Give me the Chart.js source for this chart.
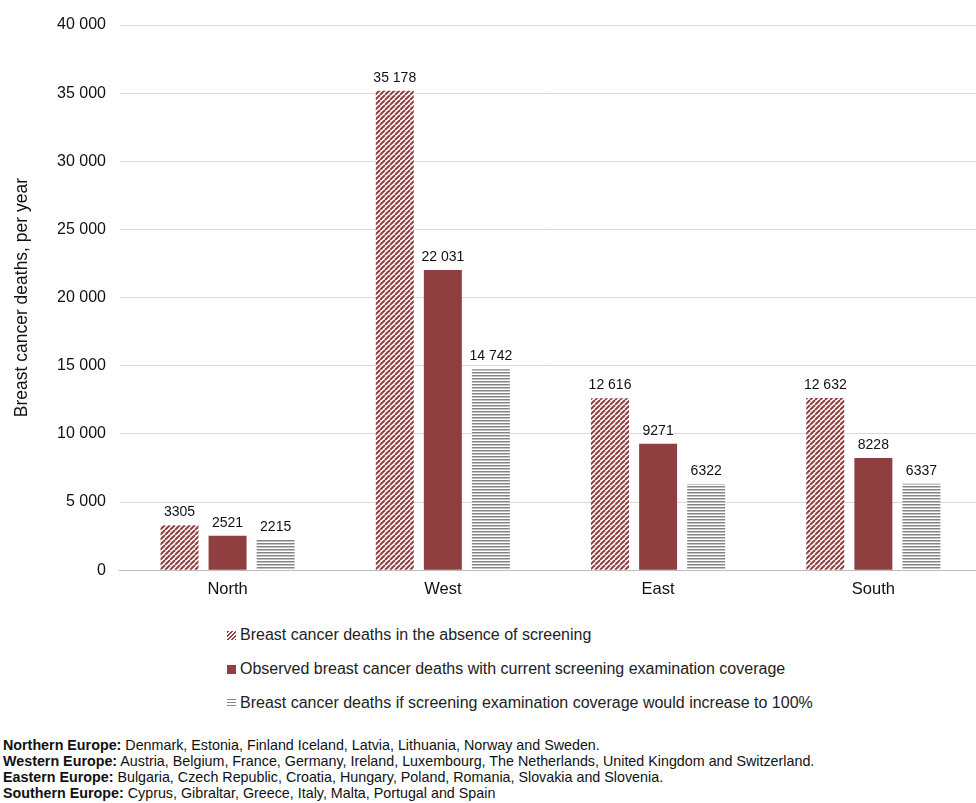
<!DOCTYPE html>
<html>
<head>
<meta charset="utf-8">
<script src="https://cdn.jsdelivr.net/npm/chart.js@4.4.0/dist/chart.umd.min.js"></script>
<style>
    body { margin: 0; background: #fff; font-family: "Liberation Sans", Arial, sans-serif; overflow: hidden; }
    #wrap { position: relative; width: 976px; height: 600px; overflow: hidden; }
    #legend { position: absolute; left: 227px; top: 618px; font-size: 16px; color: #222; }
    .item { height: 34px; line-height: 24px; display: flex; align-items: center; }
    .sw { width: 9px; height: 9px; margin-right: 4px; }
    #notes { position: absolute; left: 3px; top: 737px; font-size: 14.3px; line-height: 16px; color: #111; }
</style>
</head>
<body>
<div id="wrap"><canvas id="chart" width="981" height="600"></canvas></div>
<div id="legend"></div>
<div id="notes">
    <div><b>Northern Europe:</b> Denmark, Estonia, Finland Iceland, Latvia, Lithuania, Norway and Sweden.</div>
    <div><b>Western Europe:</b> Austria, Belgium, France, Germany, Ireland, Luxembourg, The Netherlands, United Kingdom and Switzerland.</div>
    <div><b>Eastern Europe:</b> Bulgaria, Czech Republic, Croatia, Hungary, Poland, Romania, Slovakia and Slovenia.</div>
    <div><b>Southern Europe:</b> Cyprus, Gibraltar, Greece, Italy, Malta, Portugal and Spain</div>
</div>
<script>
const regions = ["North", "West", "East", "South"];
const noScreening = [3305, 35178, 12616, 12632];
const observed = [2521, 22031, 9271, 8228];
const fullCoverage = [2215, 14742, 6322, 6337];
const seriesNames = [
    "Breast cancer deaths in the absence of screening",
    "Observed breast cancer deaths with current screening examination coverage",
    "Breast cancer deaths if screening examination coverage would increase to 100%"
];
const yTicks = [0, 5000, 10000, 15000, 20000, 25000, 30000, 35000, 40000];

const red = "#8f3f3f";
const font = "'Liberation Sans', Arial, sans-serif";

function makePattern(draw, w, h) {
    const c = document.createElement("canvas");
    c.width = w;
    c.height = h;
    const ctx = c.getContext("2d");
    ctx.fillStyle = "#fff";
    ctx.fillRect(0, 0, w, h);
    draw(ctx);
    return c;
}

// "///" stripes, 5px tile
const diagTile = makePattern((ctx) => {
    ctx.strokeStyle = red;
    ctx.lineWidth = 2;
    for (let k = -1; k <= 1; k++) {
        ctx.beginPath();
        ctx.moveTo(k * 5, 5);
        ctx.lineTo(k * 5 + 5, 0);
        ctx.stroke();
    }
}, 5, 5);

const horizTile = makePattern((ctx) => {
    ctx.fillStyle = "#858585";
    ctx.fillRect(0, 0, 4, 1.5);
}, 4, 3);

const ctxMain = document.getElementById("chart").getContext("2d");
const diagPattern = ctxMain.createPattern(diagTile, "repeat");
const horizPattern = ctxMain.createPattern(horizTile, "repeat");

const fmtSpace = (v) => v.toString().replace(/\B(?=(\d{3})+(?!\d))/g, " ");
const fmtLabel = (v) => (v >= 10000 ? fmtSpace(v) : v.toString());

const valueLabels = {
    id: "valueLabels",
    afterDatasetsDraw(chart) {
        const ctx = chart.ctx;
        ctx.save();
        ctx.font = "14px " + font;
        ctx.fillStyle = "#111";
        ctx.textAlign = "center";
        ctx.textBaseline = "bottom";
        chart.data.datasets.forEach((ds, i) => {
            chart.getDatasetMeta(i).data.forEach((bar, j) => {
                ctx.fillText(fmtLabel(ds.data[j]), bar.x, bar.y - 6);
            });
        });
        ctx.restore();
    }
};

new Chart(ctxMain, {
    type: "bar",
    data: {
        labels: regions,
        datasets: [
            { label: seriesNames[0], data: noScreening, backgroundColor: diagPattern },
            { label: seriesNames[1], data: observed, backgroundColor: red },
            { label: seriesNames[2], data: fullCoverage, backgroundColor: horizPattern }
        ]
    },
    options: {
        responsive: false,
        animation: false,
        layout: { padding: { top: 25, left: 12, right: 0, bottom: 0 } },
        datasets: { bar: { categoryPercentage: 0.67, barPercentage: 0.79 } },
        plugins: { legend: { display: false }, tooltip: { enabled: false } },
        scales: {
            x: {
                grid: { display: false },
                border: { color: "#bdbdbd" },
                ticks: { color: "#111", font: { size: 16.5, family: font }, padding: 1 }
            },
            y: {
                min: 0,
                max: 40000,
                afterBuildTicks: (axis) => { axis.ticks = yTicks.map((v) => ({ value: v })); },
                grid: { color: "#d9d9d9", drawTicks: false },
                border: { display: false },
                ticks: {
                    color: "#111",
                    padding: 14,
                    font: { size: 16, family: font },
                    callback: (v) => fmtSpace(v)
                },
                title: {
                    display: true,
                    text: "Breast cancer deaths, per year",
                    color: "#111",
                    font: { size: 17.5, family: font },
                    padding: { top: 0, bottom: 10 }
                }
            }
        }
    },
    plugins: [valueLabels]
});

const swatches = [
    "repeating-linear-gradient(-45deg, " + red + " 0 1.3px, #fff 1.3px 2.8px)",
    red,
    "repeating-linear-gradient(180deg, #858585 0 1.5px, #fff 1.5px 3px)"
];
const legend = document.getElementById("legend");
seriesNames.forEach((name, i) => {
    const div = document.createElement("div");
    div.className = "item";
    div.innerHTML = `<span class="sw" style="background:${swatches[i]}"></span><span>${name}</span>`;
    legend.appendChild(div);
});
</script>
</body>
</html>
